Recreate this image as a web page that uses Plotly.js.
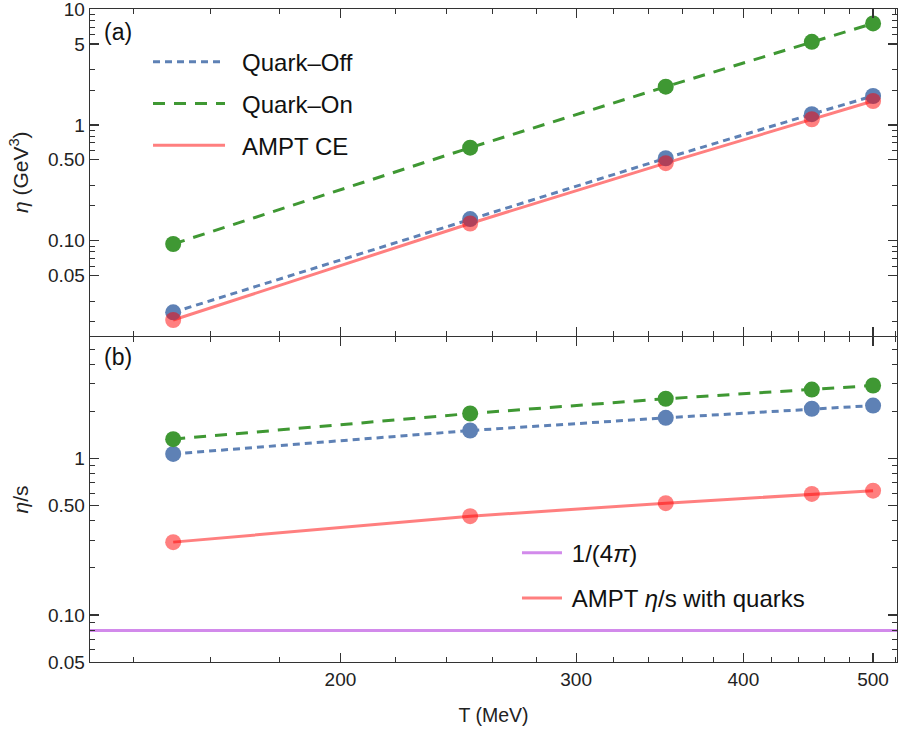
<!DOCTYPE html>
<html>
<head>
<meta charset="utf-8">
<script src="https://cdn.plot.ly/plotly-3.0.1.min.js"></script>
<style>html,body{margin:0;padding:0;background:#fff;}#chart{width:899px;height:729px;}</style>
</head>
<body>
<div id="chart"></div>
<script>
// ---- data ----
const T = [150, 250, 350, 450, 500];                       // MeV
const etaQuarkOff = [0.0241, 0.154, 0.516, 1.24, 1.78];     // GeV^3
const etaQuarkOn  = [0.0937, 0.637, 2.14, 5.22, 7.53];
const etaAMPT     = [0.0207, 0.141, 0.468, 1.12, 1.61];
const etasQuarkOff = [1.07, 1.51, 1.82, 2.08, 2.18];        // eta/s
const etasQuarkOn  = [1.33, 1.94, 2.41, 2.76, 2.93];
const etasAMPT     = [0.292, 0.428, 0.518, 0.594, 0.623];
const KSS = 1 / (4 * Math.PI);
const T_RANGE = [130, 521];

const xTickVals = [200, 300, 400, 500];
const xTickText = ['200', '300', '400', '500'];
const xMinorVals = [140,160,180,220,240,260,280,320,340,360,380,420,440,460,480,520];
const yTopTickVals = [0.05, 0.1, 0.5, 1, 5, 10];
const yTopTickText = ['0.05', '0.10', '0.50', '1', '5', '10'];
const yTopMinor = [0.02,0.03,0.06,0.07,0.08,0.09,0.2,0.3,0.6,0.7,0.8,0.9,2,3,6,7,8,9];
const yBotTickVals = [0.05, 0.1, 0.5, 1];
const yBotTickText = ['0.05', '0.10', '0.50', '1'];
const yBotMinor = [0.06,0.07,0.08,0.09,0.2,0.3,0.4,0.6,0.7,0.8,0.9,2,3,4,5];

// ---- style ----
const BLUE = '#5E81B5', GREEN = '#3F9833', RED = 'rgba(255,0,0,0.5)', PURPLE = '#D28AEB';
const FONT = 'Liberation Sans, Arial, sans-serif';
const MS = 16;
const EN = '\u2002', TH = '\u2009';

function line(x, y, xa, ya, color, dash, name, legend, show, width) {
  return {x: x, y: y, xaxis: xa, yaxis: ya, type: 'scatter', mode: 'lines', name: name,
    legend: legend, showlegend: show, legendgroup: name + legend,
    line: {color: color, width: width || 3, dash: dash}, hoverinfo: 'skip'};
}
function pts(x, y, xa, ya, color) {
  return {x: x, y: y, xaxis: xa, yaxis: ya, type: 'scatter', mode: 'markers', showlegend: false,
    marker: {color: color, size: MS, line: {width: 0}}, hoverinfo: 'skip'};
}

const traces = [
  // top panel (a)
  line(T, etaQuarkOff, 'x2', 'y2', BLUE, '7px,5px', EN + 'Quark–Off', 'legend', true),
  line(T, etaQuarkOn, 'x2', 'y2', GREEN, '12px,9px', EN + 'Quark–On', 'legend', true),
  line(T, etaAMPT, 'x2', 'y2', RED, 'solid', EN + 'AMPT CE', 'legend', true),
  pts(T, etaQuarkOff, 'x2', 'y2', BLUE),
  pts(T, etaQuarkOn, 'x2', 'y2', GREEN),
  pts(T, etaAMPT, 'x2', 'y2', RED),
  // bottom panel (b)
  line(T_RANGE, [KSS, KSS], 'x', 'y', PURPLE, 'solid', TH + '1/(4<i>π</i>)', 'legend2', true),
  line(T, etasAMPT, 'x', 'y', RED, 'solid', TH + 'AMPT <i>η</i>/s with quarks', 'legend2', true),
  line(T, etasQuarkOff, 'x', 'y', BLUE, '7px,5px', 'QOff2', 'legend2', false),
  line(T, etasQuarkOn, 'x', 'y', GREEN, '12px,9px', 'QOn2', 'legend2', false),
  pts(T, etasQuarkOff, 'x', 'y', BLUE),
  pts(T, etasQuarkOn, 'x', 'y', GREEN),
  pts(T, etasAMPT, 'x', 'y', RED)
];

const axisCommon = {
  type: 'log', showgrid: false, zeroline: false, showline: true, linecolor: '#333', linewidth: 1.3,
  mirror: 'ticks', ticks: 'inside', ticklen: 9, tickwidth: 1.2, tickcolor: '#333',
  tickfont: {family: FONT, size: 19, color: '#222'}, tickmode: 'array', ticklabeloverflow: 'allow'
};
function minor(vals) {
  return {tickmode: 'array', tickvals: vals, ticks: 'inside', ticklen: 5, tickwidth: 1, tickcolor: '#333', showgrid: false};
}

const layout = {
  width: 899, height: 729,
  margin: {l: 90, r: 2, t: 9, b: 67},
  paper_bgcolor: '#fff', plot_bgcolor: '#fff',
  font: {family: FONT, color: '#222'},
  xaxis: Object.assign({}, axisCommon, {
    anchor: 'y', range: [Math.log10(T_RANGE[0]), Math.log10(T_RANGE[1])],
    tickvals: xTickVals, ticktext: xTickText, minor: minor(xMinorVals),
    title: {text: 'T (MeV)', font: {family: FONT, size: 19.5, color: '#222'}, standoff: 19}
  }),
  xaxis2: Object.assign({}, axisCommon, {
    anchor: 'y2', matches: 'x', range: [Math.log10(T_RANGE[0]), Math.log10(T_RANGE[1])],
    tickvals: xTickVals, ticktext: xTickText, showticklabels: false, minor: minor(xMinorVals)
  }),
  yaxis: Object.assign({}, axisCommon, {
    anchor: 'x', domain: [0, 0.498], range: [Math.log10(0.05), Math.log10(6)],
    tickvals: yBotTickVals, ticktext: yBotTickText, minor: minor(yBotMinor),
    title: {text: '<i>η</i>/s', font: {family: FONT, size: 21, color: '#222'}, standoff: 13}
  }),
  yaxis2: Object.assign({}, axisCommon, {
    anchor: 'x2', domain: [0.5, 1], range: [Math.log10(0.0152), 1.0015],
    tickvals: yTopTickVals, ticktext: yTopTickText, minor: minor(yTopMinor),
    title: {text: '<i>η</i> (GeV<sup>3</sup>)', font: {family: FONT, size: 21, color: '#222'}, standoff: 13}
  }),
  legend: {
    x: 0.0719, y: 0.953, xanchor: 'left', yanchor: 'top', bgcolor: 'rgba(0,0,0,0)',
    font: {family: FONT, size: 24, color: '#111'}, traceorder: 'grouped', tracegroupgap: 7.5,
    itemwidth: 72
  },
  legend2: {
    x: 0.5291, y: 0.201, xanchor: 'left', yanchor: 'top', bgcolor: 'rgba(0,0,0,0)',
    font: {family: FONT, size: 24, color: '#111'}, traceorder: 'grouped', tracegroupgap: 11,
    itemwidth: 40
  },
  annotations: [
    {text: '(a)', xref: 'paper', yref: 'paper', x: 0.0145, y: 0.965, xanchor: 'left', yanchor: 'middle',
     showarrow: false, font: {family: FONT, size: 23, color: '#111'}},
    {text: '(b)', xref: 'paper', yref: 'paper', x: 0.0145, y: 0.4675, xanchor: 'left', yanchor: 'middle',
     showarrow: false, font: {family: FONT, size: 23, color: '#111'}}
  ],
  showlegend: true
};

Plotly.newPlot('chart', traces, layout, {displayModeBar: false, staticPlot: true});
</script>
</body>
</html>
